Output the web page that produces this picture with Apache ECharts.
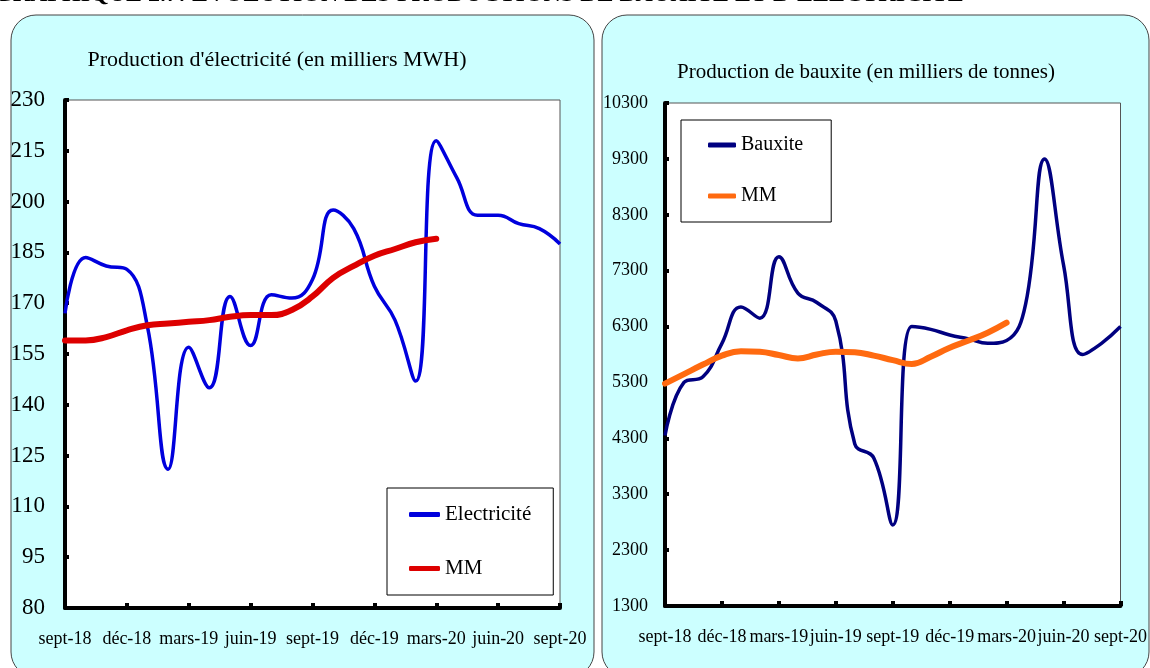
<!DOCTYPE html>
<html>
<head>
<meta charset="utf-8">
<script src="https://cdn.jsdelivr.net/npm/echarts@6/dist/echarts.min.js"></script>
<style>
html,body{margin:0;padding:0;background:#fff;}
#c{width:1150px;height:668px;}
</style>
</head>
<body>
<div id="c"></div>
<script>
// ---- data ----
const months = ['sept-18','oct-18','nov-18','déc-18','janv-19','févr-19','mars-19','avr-19','mai-19','juin-19','juil-19','août-19','sept-19','oct-19','nov-19','déc-19','janv-20','févr-20','mars-20','avr-20','mai-20','juin-20','juil-20','août-20','sept-20'];
const electricite = [167, 183.5, 181, 180, 163, 121, 157, 145, 172, 157.5, 172.5, 171.5, 177, 197.5, 192, 175, 165, 147, 218, 207, 196, 196, 193.5, 192, 187.5];
const elecMM = [159, 159, 160, 162, 163.5, 164, 164.5, 165, 166, 166.5, 166.5, 168, 172, 177.5, 181, 184, 186, 188, 189];
const bauxite = [4350, 5300, 5400, 6000, 6650, 6450, 7550, 6900, 6730, 6400, 4200, 3950, 2750, 6300, 6250, 6150, 6080, 6000, 6050, 6700, 9300, 7400, 5800, 6000, 6300];
const bauxMM = [5280, 5450, 5620, 5780, 5860, 5850, 5790, 5730, 5800, 5850, 5840, 5780, 5700, 5630, 5760, 5920, 6050, 6190, 6370];
const elecTicks = [80, 95, 110, 125, 140, 155, 170, 185, 200, 215, 230];
const bauxTicks = [1300, 2300, 3300, 4300, 5300, 6300, 7300, 8300, 9300, 10300];
const headerText = "GRAPHIQUE 2.7: EVOLUTION DES PRODUCTIONS DE BAUXITE ET D'ELECTRICITE";
const titleElec = "Production d'électricité (en milliers MWH)";
const titleBaux = "Production de bauxite (en milliers de tonnes)";

const FONT = 'Liberation Serif';
const chart = echarts.init(document.getElementById('c'));

function xAxisCfg(gridIndex, margin) {
  return {
    type: 'category', gridIndex: gridIndex, data: months, boundaryGap: false,
    axisLine: { show: true, onZero: false, lineStyle: { color: '#000', width: 4 } },
    axisTick: { show: true, inside: true, interval: 2, length: 5, lineStyle: { color: '#000', width: 4 } },
    axisLabel: { interval: 2, color: '#000', fontFamily: FONT, fontSize: 18, margin: margin },
    splitLine: { show: false }
  };
}
function yAxisCfg(gridIndex, mn, mx, ticks, fs, margin) {
  return {
    type: 'value', gridIndex: gridIndex, min: mn, max: mx,
    axisLine: { show: true, lineStyle: { color: '#000', width: 4 } },
    axisTick: { show: true, inside: true, length: 4, customValues: ticks, lineStyle: { color: '#000', width: 4 } },
    axisLabel: { customValues: ticks, color: '#000', fontFamily: FONT, fontSize: fs, margin: margin,
      formatter: function (v) { return String(v); } },
    splitLine: { show: false }
  };
}

const option = {
  animation: false,
  textStyle: { fontFamily: FONT },
  graphic: [
    { type: 'rect', z: -100, silent: true, shape: { x: 11, y: 15, width: 583, height: 662, r: 25 },
      style: { fill: '#ccffff', stroke: '#444', lineWidth: 1 } },
    { type: 'rect', z: -100, silent: true, shape: { x: 602, y: 15, width: 547, height: 662, r: 25 },
      style: { fill: '#ccffff', stroke: '#444', lineWidth: 1 } },
    { type: 'text', z: 10, silent: true, x: -6, y: 7,
      style: { text: headerText, fontFamily: FONT, fontSize: 24, fontWeight: 'bold', fill: '#000', textVerticalAlign: 'bottom' } },
    { type: 'text', z: 10, silent: true, x: 277, y: 60,
      style: { text: titleElec, fontFamily: FONT, fontSize: 22, fill: '#000', textAlign: 'center', textVerticalAlign: 'middle' } },
    { type: 'text', z: 10, silent: true, x: 866, y: 72,
      style: { text: titleBaux, fontFamily: FONT, fontSize: 21, fill: '#000', textAlign: 'center', textVerticalAlign: 'middle' } }
  ],
  grid: [
    { left: 65, right: 590, top: 100, bottom: 60, show: true, backgroundColor: '#fff', borderColor: '#555', borderWidth: 1 },
    { left: 665, right: 26, top: 103, bottom: 62, show: true, backgroundColor: '#fff', borderColor: '#555', borderWidth: 1 }
  ],
  xAxis: [xAxisCfg(0, 22), xAxisCfg(1, 22)],
  yAxis: [yAxisCfg(0, 80, 230, elecTicks, 23, 20), yAxisCfg(1, 1300, 10300, bauxTicks, 18, 17)],
  legend: [
    { data: ['Electricité', 'MM '], orient: 'vertical', left: 387, top: 488,
      padding: [16, 22, 16, 22], itemGap: 33, itemWidth: 31, itemHeight: 5, icon: 'roundRect',
      borderColor: '#000', borderWidth: 1, backgroundColor: '#fff',
      textStyle: { fontFamily: FONT, fontSize: 21, color: '#000' } },
    { data: ['Bauxite', 'MM'], orient: 'vertical', left: 681, top: 120,
      padding: [15, 28, 16, 27], itemGap: 31, itemWidth: 28, itemHeight: 5, icon: 'roundRect',
      borderColor: '#000', borderWidth: 1, backgroundColor: '#fff',
      textStyle: { fontFamily: FONT, fontSize: 20, color: '#000' } }
  ],
  series: [
    { name: 'Electricité', type: 'line', xAxisIndex: 0, yAxisIndex: 0, data: electricite, smooth: 0.45,
      symbol: 'none', lineStyle: { color: '#0000dd', width: 3.5 }, itemStyle: { color: '#0000dd' }, z: 3 },
    { name: 'MM ', type: 'line', xAxisIndex: 0, yAxisIndex: 0, data: elecMM, smooth: 0.45,
      symbol: 'none', lineStyle: { color: '#dd0000', width: 6, cap: 'round' }, itemStyle: { color: '#dd0000' }, z: 4 },
    { name: 'Bauxite', type: 'line', xAxisIndex: 1, yAxisIndex: 1, data: bauxite, smooth: 0.45,
      symbol: 'none', lineStyle: { color: '#000080', width: 3.5 }, itemStyle: { color: '#000080' }, z: 3 },
    { name: 'MM', type: 'line', xAxisIndex: 1, yAxisIndex: 1, data: bauxMM, smooth: 0.45,
      symbol: 'none', lineStyle: { color: '#ff6a10', width: 6, cap: 'round' }, itemStyle: { color: '#ff6a10' }, z: 4 }
  ]
};
chart.setOption(option);
</script>
</body>
</html>
